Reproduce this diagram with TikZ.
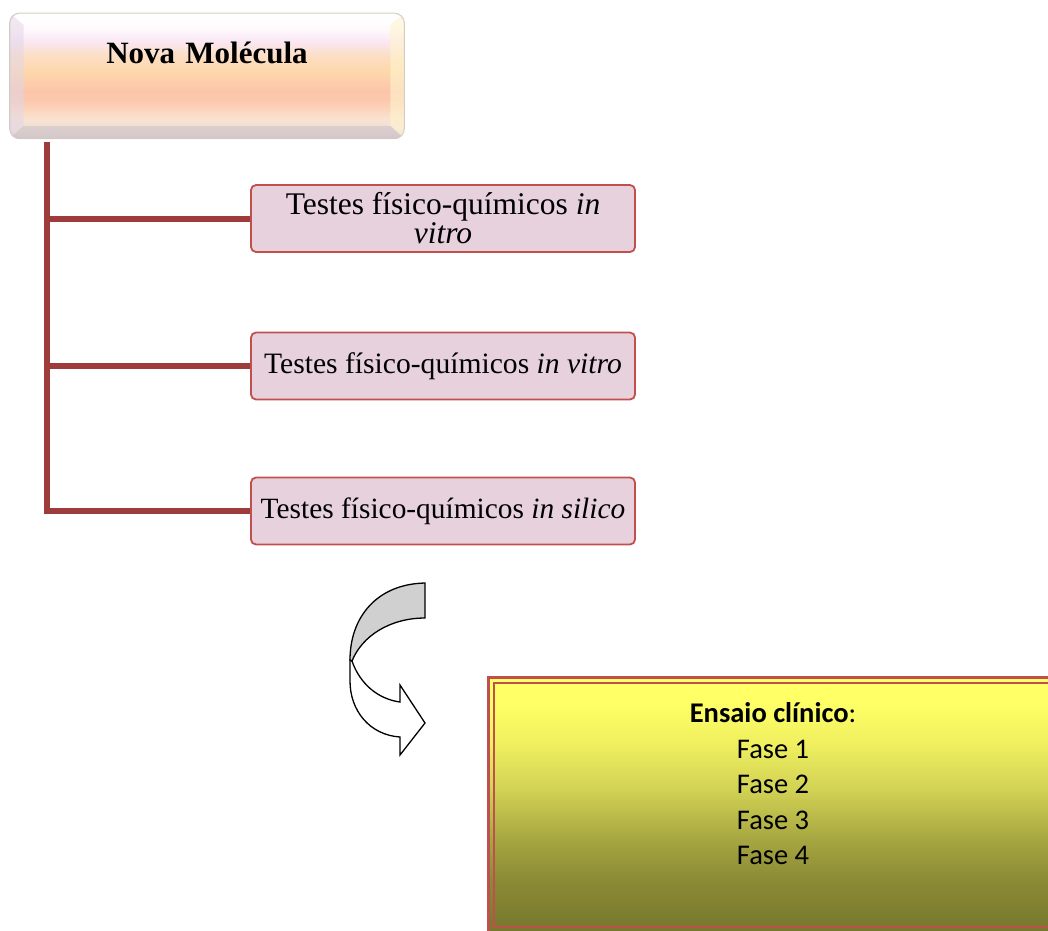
\documentclass[tikz,border=0pt]{standalone}
\usepackage{fontspec}
\setmainfont{Liberation Serif}
\newfontfamily\calibrifont{Carlito}
\usetikzlibrary{calc}

% palette
\definecolor{trunkred}{RGB}{158,60,60}
\definecolor{boxfill}{RGB}{231,209,221}
\definecolor{boxline}{RGB}{192,80,77}
\definecolor{arrowgray}{RGB}{208,208,208}
\definecolor{gelrim}{RGB}{212,204,196}
\definecolor{rimleft}{RGB}{226,214,232}
\definecolor{rimright}{RGB}{255,244,206}
\definecolor{rimbottom}{RGB}{206,194,198}
% gel button (top)
\definecolor{gpA}{RGB}{218,206,208}
\definecolor{gpB}{RGB}{238,224,216}
\definecolor{gpC}{RGB}{250,226,206}
\definecolor{gpD}{RGB}{252,201,174}
\definecolor{gpE}{RGB}{252,197,170}
\definecolor{gpF}{RGB}{253,216,172}
\definecolor{gpG}{RGB}{252,222,196}
\definecolor{gpH}{RGB}{250,232,244}
\definecolor{gpI}{RGB}{255,250,253}
% olive panel
\definecolor{olA}{RGB}{119,119,46}
\definecolor{olB}{RGB}{138,138,53}
\definecolor{olC}{RGB}{166,166,65}
\definecolor{olD}{RGB}{210,210,85}
\definecolor{olE}{RGB}{240,240,96}
\definecolor{olF}{RGB}{255,255,102}

% the useful range of a tikz shading is 25bp..75bp
\pgfdeclareverticalshading{gelpeach}{100bp}{%
  color(0bp)=(gpA); color(25bp)=(gpA); color(29bp)=(gpB); color(33bp)=(gpC);
  color(40bp)=(gpD); color(44bp)=(gpE); color(52bp)=(gpF); color(58bp)=(gpG);
  color(64bp)=(gpH); color(69bp)=(gpI); color(75bp)=(white); color(100bp)=(white)}
\pgfdeclareverticalshading{olivegel}{100bp}{%
  color(0bp)=(olA); color(25bp)=(olA); color(35bp)=(olB); color(43bp)=(olC);
  color(53bp)=(olD); color(62bp)=(olE); color(70bp)=(olF); color(100bp)=(olF)}

\tikzset{
  gelbox/.style={rectangle, rounded corners=10pt, shading=gelpeach,
    draw=gelrim, line width=0.8pt,
    minimum width=394pt, inner sep=0pt, text width=394pt, align=center,
    text height=50pt, text depth=75pt,
    font=\fontsize{31}{36}\selectfont\bfseries},
  testbox/.style={rectangle, rounded corners=5pt, fill=boxfill, draw=boxline,
    line width=1.8pt, minimum width=384pt, minimum height=67pt, inner sep=0pt,
    align=center},
  trunk/.style={draw=trunkred, line width=6pt, line join=miter},
  ribbon/.style={draw=black, line width=1.3pt, line join=miter},
  redrule/.style={draw=boxline},
}

\begin{document}
\begin{tikzpicture}[x=1pt,y=-1pt]
\useasboundingbox (0,0) rectangle (1048,930);

% ---- gel button with bevelled rim ----
\node[gelbox] (mol) at (207,13) [anchor=north] {Nova Molécula};
\begin{scope}
  \clip[rounded corners=10pt] (mol.north west) rectangle (mol.south east);
  \fill[white, opacity=0.55] (mol.north west) -- (mol.north east)
       -- ($(mol.north east)+(-14,12)$) -- ($(mol.north west)+(14,12)$) -- cycle;
  \fill[rimleft, opacity=0.55] (mol.north west)
       -- ($(mol.north west)+(14,12)$) -- ($(mol.south west)+(14,-13)$)
       -- (mol.south west) -- cycle;
  \fill[rimright, opacity=0.6] (mol.north east)
       -- ($(mol.north east)+(-14,12)$) -- ($(mol.south east)+(-14,-13)$)
       -- (mol.south east) -- cycle;
  \fill[rimbottom, opacity=0.6] (mol.south west)
       -- ($(mol.south west)+(14,-13)$) -- ($(mol.south east)+(-14,-13)$)
       -- (mol.south east) -- cycle;
\end{scope}
\draw[gelrim, line width=0.8pt, rounded corners=10pt]
  (mol.north west) rectangle (mol.south east);

% ---- test boxes ----
\node[testbox, font=\fontsize{31.5}{29}\selectfont] (t1) at (443,218.5)
  {Testes físico-químicos \textit{in}\\\textit{vitro}};
\node[testbox, font=\fontsize{29.6}{33}\selectfont] (t2) at (443,366)
  {Testes físico-químicos \textit{in vitro}};
\node[testbox, font=\fontsize{29.4}{33}\selectfont] (t3) at (443,511)
  {Testes físico-químicos \textit{in silico}};

% ---- tree connectors ----
\coordinate (root) at (47,142);
\draw[trunk] (root) |- (t3.west);
\draw[trunk] (root |- t1.west) -- (t1.west);
\draw[trunk] (root |- t2.west) -- (t2.west);

% ---- curved arrow ----
\draw[ribbon, fill=white] (350,660) -- (350,681)
  .. controls (350,711) and (370,735) .. (400,737)
  -- (400,755) -- (425,723) -- (400,685) -- (400,702)
  .. controls (378,699) and (360,684) .. (352,661) -- cycle;
\draw[ribbon, fill=arrowgray] (425,583)
  .. controls (377,584) and (350,617) .. (350,660)
  -- (352,661)
  .. controls (362,636) and (390,618) .. (425,618) -- cycle;

% ---- clinical trial panel ----
\shade[shading=olivegel] (487,676) rectangle (1060,932);
\draw[redrule, line width=3pt] (488.5,677.5) rectangle (1062,932);
\draw[redrule, line width=2.5pt] (494,683) rectangle (1056,927);
\node[font=\calibrifont\fontsize{28.5}{35.5}\selectfont, align=center, anchor=base]
  (fases) at (773,864.5)
  {\textbf{Ensaio clínico}:\\Fase 1\\Fase 2\\Fase 3\\Fase 4};
\end{tikzpicture}
\end{document}
